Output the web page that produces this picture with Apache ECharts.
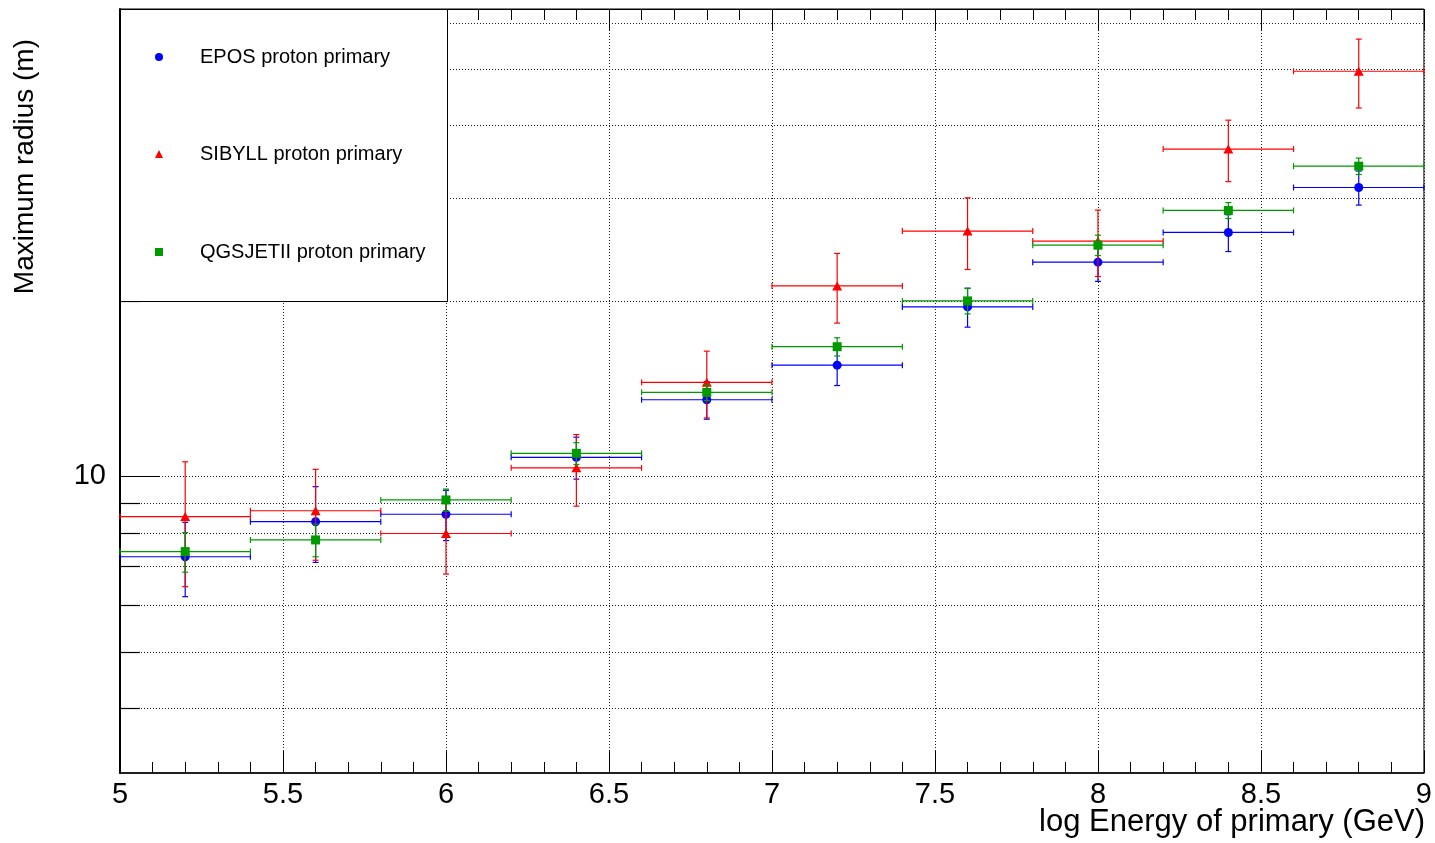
<!DOCTYPE html>
<html>
<head>
<meta charset="utf-8">
<script src="https://cdn.jsdelivr.net/npm/echarts@6/dist/echarts.min.js"></script>
<style>html,body{margin:0;padding:0;background:#fff}#c{width:1435px;height:843px}</style>
</head>
<body>
<div id="c"></div>
<script>
// ---- data ----
const energyBins = [5.2, 5.6, 6.0, 6.4, 6.8, 7.2, 7.6, 8.0, 8.4, 8.8];
const binHalfWidth = 0.2;
const eposRadius   = [7.27, 8.35, 8.60, 10.77, 13.52, 15.50, 19.51, 23.28, 26.18, 31.27];
const eposErr      = [1.06, 1.24, 0.85, 0.89, 1.00, 1.20, 1.50, 1.70, 1.90, 2.10];
const sibyllRadius = [8.52, 8.72, 7.97, 10.33, 14.48, 21.20, 26.32, 25.30, 36.40, 49.50];
const sibyllErr    = [2.06, 1.55, 1.18, 1.45, 1.90, 2.90, 3.70, 3.30, 4.40, 6.70];
const qgsRadius    = [7.42, 7.77, 9.10, 10.94, 13.92, 16.67, 19.98, 24.90, 28.56, 34.02];
const qgsErr       = [0.58, 0.50, 0.40, 0.47, 0.45, 0.60, 1.00, 1.00, 0.90, 1.10];
const seriesNames  = ['EPOS proton primary', 'SIBYLL proton primary', 'QGSJETII proton primary'];
const xTickLabels  = ['5', '5.5', '6', '6.5', '7', '7.5', '8', '8.5', '9'];
const yGridValues  = [4, 5, 6, 7, 8, 9, 10, 20, 30, 40, 50, 60];
const yLabelValues = [10];
const xMin = 5, xMax = 9, yMin = 3.094, yMax = 63.3;

const FONT = 'Liberation Sans, Arial, Helvetica, sans-serif';
const colors = ['#0000ff', '#ff0000', '#009900'];
const symbols = ['circle', 'triangle', 'rect'];
const symbolSizes = [9, [10, 9], 9];

function errRender(color) {
  return function (params, api) {
    const x = api.value(0), y = api.value(1), e = api.value(2);
    const l = api.coord([x - binHalfWidth, y]), r = api.coord([x + binHalfWidth, y]);
    const t = api.coord([x, y + e]), b = api.coord([x, y - e]);
    const cap = 3;
    const st = { stroke: color, lineWidth: 1.2 };
    const ln = (x1, y1, x2, y2) => ({ type: 'line', shape: { x1, y1, x2, y2 }, style: st });
    return { type: 'group', children: [
      ln(l[0], l[1], r[0], r[1]),
      ln(l[0], l[1] - cap, l[0], l[1] + cap),
      ln(r[0], r[1] - cap, r[0], r[1] + cap),
      ln(t[0], t[1], b[0], b[1]),
      ln(t[0] - cap, t[1], t[0] + cap, t[1]),
      ln(b[0] - cap, b[1], b[0] + cap, b[1])
    ]};
  };
}

function gridRender(params, api) {
  const v = api.value(1);
  const p0 = api.coord([xMin, v]), p1 = api.coord([xMax, v]);
  const y = Math.round(p0[1]) + 0.5;
  const tickLen = yLabelValues.indexOf(v) >= 0 ? 40 : 20;
  return { type: 'group', children: [
    { type: 'line', shape: { x1: p0[0], y1: y, x2: p1[0], y2: y },
      style: { stroke: '#222', lineWidth: 1, lineDash: [1, 2] } },
    { type: 'line', shape: { x1: p0[0], y1: y, x2: p0[0] + tickLen, y2: y },
      style: { stroke: '#000', lineWidth: 1.2 } }
  ]};
}

const valuesList = [eposRadius, sibyllRadius, qgsRadius];
const errList = [eposErr, sibyllErr, qgsErr];

const series = [{
  type: 'custom', name: 'grid', coordinateSystem: 'cartesian2d', silent: true, z: 1,
  renderItem: gridRender, encode: { x: 0, y: 1 },
  data: yGridValues.map(v => [xMin, v])
}];
seriesNames.forEach((name, i) => {
  series.push({
    type: 'custom', name: name + ' err', coordinateSystem: 'cartesian2d', z: 5 + i * 2,
    renderItem: errRender(colors[i]), encode: { x: 0, y: 1 }, silent: true,
    data: energyBins.map((x, k) => [x, valuesList[i][k], errList[i][k]])
  });
  series.push({
    type: 'scatter', name: name, z: 6 + i * 2, symbol: symbols[i], symbolSize: symbolSizes[i],
    itemStyle: { color: colors[i], opacity: 1 }, silent: true,
    data: energyBins.map((x, k) => [x, valuesList[i][k]])
  });
});

const legendRows = [57, 154, 252];
const legends = seriesNames.map((name, i) => ({
  data: [{ name: name, icon: symbols[i] }],
  left: 155, top: legendRows[i] - 10, orient: 'vertical', padding: 0,
  itemWidth: 8, itemHeight: 8, selectedMode: false, z: 10,
  textStyle: { fontFamily: FONT, fontSize: 20, color: '#000', lineHeight: 20, padding: [0, 0, 0, 32] }
}));

const chart = echarts.init(document.getElementById('c'), null, { renderer: 'canvas' });
chart.setOption({
  animation: false,
  backgroundColor: '#fff',
  grid: { left: 120, top: 9, right: 10, bottom: 70, show: true, borderColor: '#000', borderWidth: 1, containLabel: false },
  xAxis: [{
    type: 'value', min: xMin, max: xMax, interval: 0.5, position: 'bottom',
    axisLine: { show: true, onZero: false, lineStyle: { color: '#000', width: 1.5 } },
    axisTick: { show: true, inside: true, length: 22, lineStyle: { color: '#000' } },
    minorTick: { show: true, splitNumber: 5, length: 11, lineStyle: { color: '#000' } },
    splitLine: { show: true, lineStyle: { color: '#222', width: 1, type: [1, 2] } },
    axisLabel: { fontFamily: FONT, fontSize: 29, color: '#000', margin: 7,
      formatter: v => { const i = Math.round((v - xMin) / 0.5); return xTickLabels[i] !== undefined ? xTickLabels[i] : ''; } }
  }, {
    type: 'value', min: xMin, max: xMax, interval: 0.5, position: 'top',
    axisLine: { show: true, onZero: false, lineStyle: { color: '#000', width: 1 } },
    axisTick: { show: true, inside: true, length: 22, lineStyle: { color: '#000' } },
    minorTick: { show: true, splitNumber: 5, length: 11, lineStyle: { color: '#000' } },
    splitLine: { show: false }, axisLabel: { show: false }
  }],
  yAxis: {
    type: 'log', logBase: 10, min: yMin, max: yMax,
    axisLine: { show: true, onZero: false, lineStyle: { color: '#000', width: 2 } },
    axisTick: { show: false }, splitLine: { show: false }, minorTick: { show: false },
    axisLabel: { fontFamily: FONT, fontSize: 29, color: '#000', margin: 14, showMinLabel: false, showMaxLabel: false,
      formatter: v => (yLabelValues.some(t => Math.abs(v - t) < 1e-6) ? String(Math.round(v)) : '') }
  },
  legend: legends,
  graphic: [
    { type: 'rect', z: 3, silent: true, shape: { x: 120.5, y: 9.5, width: 327, height: 292 },
      style: { fill: '#fff', stroke: '#000', lineWidth: 1 } },
    { type: 'text', z: 3, silent: true, x: 1425, y: 822,
      style: { text: 'log Energy of primary (GeV)', font: '31px ' + FONT, fill: '#000', align: 'right', verticalAlign: 'middle' } },
    { type: 'text', z: 3, silent: true, x: 25, y: 39, rotation: Math.PI / 2,
      style: { text: 'Maximum radius (m)', font: '28px ' + FONT, fill: '#000', align: 'right', verticalAlign: 'middle' } }
  ],
  series: series
});
</script>
</body>
</html>
